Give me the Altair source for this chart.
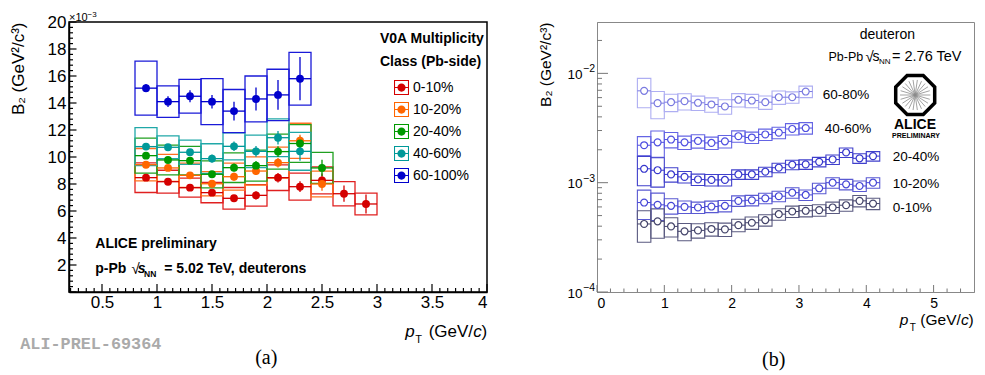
import math
import altair as alt
import pandas as pd

SANS = "Liberation Sans"
SERIF = "Liberation Serif"
MONO = "Liberation Mono"

# ---------------- panel (a): p-Pb, B2 in units of 1e-3 ----------------
classes_a = ["0-10%", "10-20%", "20-40%", "40-60%", "60-100%"]
colors_a = ["#d40000", "#ff6600", "#009900", "#009999", "#0000cc"]
box_colors_a = ["#e02020", "#ff7020", "#20a020", "#20a8a8", "#1a1ad8"]

pt_a_0_10 = [0.9, 1.1, 1.3, 1.5, 1.7, 1.9, 2.1, 2.3, 2.5, 2.7, 2.9]
b2_a_0_10 = [8.47, 8.17, 7.73, 7.36, 6.94, 7.16, 8.47, 7.80, 8.27, 7.28, 6.52]
stat_a_0_10 = [0.2, 0.2, 0.2, 0.2, 0.25, 0.3, 0.35, 0.4, 0.5, 0.6, 0.7]
sys_a_0_10 = [1.1, 0.85, 0.7, 0.75, 0.8, 0.8, 0.95, 1.0, 1.0, 0.9, 0.8]

pt_a_10_20 = [0.9, 1.1, 1.3, 1.5, 1.7, 1.9, 2.1, 2.3, 2.5]
b2_a_10_20 = [9.43, 9.19, 8.64, 8.02, 8.54, 8.96, 9.58, 11.2, 8.0]
stat_a_10_20 = [0.2, 0.2, 0.2, 0.25, 0.3, 0.3, 0.35, 0.45, 0.5]
sys_a_10_20 = [1.2, 1.0, 0.9, 0.9, 1.0, 1.05, 1.15, 1.3, 0.95]

pt_a_20_40 = [0.9, 1.1, 1.3, 1.5, 1.7, 1.9, 2.1, 2.3, 2.5]
b2_a_20_40 = [10.1, 9.78, 9.73, 8.72, 9.21, 9.36, 10.4, 11.0, 9.19]
stat_a_20_40 = [0.2, 0.2, 0.25, 0.25, 0.3, 0.35, 0.4, 0.5, 0.6]
sys_a_20_40 = [1.3, 1.1, 1.05, 1.0, 1.1, 1.15, 1.3, 1.4, 1.15]

pt_a_40_60 = [0.9, 1.1, 1.3, 1.5, 1.7, 1.9, 2.1, 2.3]
b2_a_40_60 = [10.77, 10.72, 10.35, 9.88, 10.79, 10.42, 11.43, 10.42]
stat_a_40_60 = [0.2, 0.2, 0.25, 0.3, 0.35, 0.4, 0.5, 0.7]
sys_a_40_60 = [1.4, 0.85, 0.9, 1.1, 1.0, 1.2, 1.4, 1.4]

pt_a_60_100 = [0.9, 1.1, 1.3, 1.5, 1.7, 1.9, 2.1, 2.3]
b2_a_60_100 = [15.1, 14.1, 14.5, 14.1, 13.4, 14.3, 14.6, 15.8]
stat_a_60_100 = [0.3, 0.4, 0.45, 0.5, 0.7, 0.85, 1.1, 1.6]
sys_a_60_100 = [2.0, 1.17, 1.25, 1.7, 1.6, 1.7, 1.9, 1.95]

xlabels_a = [0.5, 1.0, 1.5, 2.0, 2.5, 3.0, 3.5, 4.0]
ylabels_a = [2, 4, 6, 8, 10, 12, 14, 16, 18, 20]

# ---------------- panel (b): Pb-Pb ----------------
classes_b = ["60-80%", "40-60%", "20-40%", "10-20%", "0-10%"]
pt_colors_b = ["#7a7ae0", "#4f4fe0", "#3636cc", "#4646d6", "#44446a"]
box_colors_b = ["#aeaef2", "#6464e4", "#4040cc", "#5a5ad2", "#5a5a80"]

pt_b_short = [0.7, 0.9, 1.1, 1.3, 1.5, 1.7, 1.9, 2.1, 2.3, 2.5, 2.7, 2.9, 3.1]
pt_b_long = [0.7, 0.9, 1.1, 1.3, 1.5, 1.7, 1.9, 2.1, 2.3, 2.5, 2.7, 2.9, 3.1,
             3.3, 3.5, 3.7, 3.9, 4.1]

b2_b_60_80 = [6.92e-3, 5.34e-3, 5.45e-3, 5.57e-3, 5.38e-3, 5.19e-3, 4.98e-3,
              5.73e-3, 5.64e-3, 5.45e-3, 6.05e-3, 6.05e-3, 6.82e-3]
rel_b_60_80 = [0.30, 0.28, 0.18, 0.17, 0.15, 0.15, 0.15, 0.14, 0.14, 0.14, 0.14, 0.12, 0.12]

b2_b_40_60 = [2.20e-3, 2.34e-3, 2.48e-3, 2.34e-3, 2.41e-3, 2.31e-3, 2.39e-3,
              2.66e-3, 2.59e-3, 2.76e-3, 2.87e-3, 3.10e-3, 3.16e-3]
rel_b_40_60 = [0.20, 0.27, 0.16, 0.14, 0.14, 0.13, 0.13, 0.12, 0.12, 0.12, 0.12, 0.12, 0.12]

b2_b_20_40 = [1.34e-3, 1.30e-3, 1.19e-3, 1.13e-3, 1.07e-3, 1.06e-3, 1.06e-3, 1.19e-3,
              1.19e-3, 1.26e-3, 1.37e-3, 1.46e-3, 1.47e-3, 1.55e-3, 1.63e-3, 1.89e-3,
              1.67e-3, 1.75e-3]
rel_b_20_40 = [0.30, 0.30, 0.15, 0.12, 0.12, 0.12, 0.12, 0.10, 0.10, 0.10, 0.10, 0.10,
               0.10, 0.10, 0.10, 0.10, 0.10, 0.10]

b2_b_10_20 = [0.658e-3, 0.627e-3, 0.614e-3, 0.601e-3, 0.593e-3, 0.605e-3, 0.614e-3,
              0.682e-3, 0.690e-3, 0.720e-3, 0.752e-3, 0.810e-3, 0.773e-3, 0.889e-3,
              1.00e-3, 0.966e-3, 0.933e-3, 1.00e-3]
rel_b_10_20 = [0.30, 0.28, 0.16, 0.13, 0.12, 0.12, 0.12, 0.11, 0.11, 0.11, 0.11, 0.11,
               0.11, 0.11, 0.11, 0.11, 0.11, 0.11]

b2_b_0_10 = [0.419e-3, 0.443e-3, 0.398e-3, 0.359e-3, 0.366e-3, 0.377e-3, 0.374e-3,
             0.409e-3, 0.430e-3, 0.455e-3, 0.515e-3, 0.545e-3, 0.553e-3, 0.561e-3,
             0.593e-3, 0.622e-3, 0.682e-3, 0.644e-3]
rel_b_0_10 = [0.32, 0.30, 0.20, 0.18, 0.15, 0.14, 0.14, 0.13, 0.13, 0.12, 0.12, 0.12,
              0.12, 0.12, 0.12, 0.12, 0.12, 0.12]

xlabels_b = [0, 1, 2, 3, 4, 5]
ylabels_b = [1e-4, 1e-3, 1e-2]
ylabel_exp_b = ["\u22124", "\u22123", "\u22122"]

# ---------------- build tables ----------------
rows = []
for cls, pts, vals, st, sy in [
    ("0-10%", pt_a_0_10, b2_a_0_10, stat_a_0_10, sys_a_0_10),
    ("10-20%", pt_a_10_20, b2_a_10_20, stat_a_10_20, sys_a_10_20),
    ("20-40%", pt_a_20_40, b2_a_20_40, stat_a_20_40, sys_a_20_40),
    ("40-60%", pt_a_40_60, b2_a_40_60, stat_a_40_60, sys_a_40_60),
    ("60-100%", pt_a_60_100, b2_a_60_100, stat_a_60_100, sys_a_60_100),
]:
    for x, v, s, e in zip(pts, vals, st, sy):
        rows.append(dict(cls=cls, x=x, xlo=round(x - 0.1, 3), xhi=round(x + 0.1, 3),
                         v=v, slo=v - s, shi=v + s, blo=v - e, bhi=v + e))
df_a = pd.DataFrame(rows)

rows = []
for cls, pts, vals, rel in [
    ("60-80%", pt_b_short, b2_b_60_80, rel_b_60_80),
    ("40-60%", pt_b_short, b2_b_40_60, rel_b_40_60),
    ("20-40%", pt_b_long, b2_b_20_40, rel_b_20_40),
    ("10-20%", pt_b_long, b2_b_10_20, rel_b_10_20),
    ("0-10%", pt_b_long, b2_b_0_10, rel_b_0_10),
]:
    for x, v, r in zip(pts, vals, rel):
        rows.append(dict(clsb=cls, x=x, xlo=round(x - 0.1, 3), xhi=round(x + 0.1, 3),
                         v=v, blo=v * (1 - r), bhi=v * (1 + r)))
df_b = pd.DataFrame(rows)


def txt(s, x, y, size, font=SANS, align="left", baseline="alphabetic", weight="normal",
        style="normal", color="black", angle=0):
    return alt.Chart(pd.DataFrame({"t": [s]})).mark_text(
        align=align, baseline=baseline, font=font, fontSize=size, fontWeight=weight,
        fontStyle=style, color=color, angle=angle
    ).encode(x=alt.value(x), y=alt.value(y), text="t:N")


# ================= panel (a) =================
W_A, H_A = 418, 270
xs_a = alt.Scale(domain=[0.2, 4.0], nice=False, zero=False)
ys_a = alt.Scale(domain=[0, 20], nice=False, zero=False)
ax_xa = alt.Axis(values=xlabels_a, format="~g", labelFont=SANS, labelFontSize=17,
                 labelPadding=2, ticks=False, grid=False, domainColor="black",
                 domainWidth=1.5, title=None, labelColor="black")
ax_ya = alt.Axis(values=ylabels_a, format="d", labelFont=SANS, labelFontSize=17,
                 labelPadding=3, ticks=False, grid=False, domainColor="black",
                 domainWidth=1.5, title="B\u2082 (GeV\u00b2/c\u00b3)", titleFont=SANS,
                 titleFontSize=17, titleFontWeight="normal", titleAnchor="end",
                 titlePadding=20, titleColor="black", labelColor="black")


def XA(f):
    return alt.X(f, type="quantitative", scale=xs_a, axis=ax_xa)


def YA(f):
    return alt.Y(f, type="quantitative", scale=ys_a, axis=ax_ya)


stroke_box_a = alt.Stroke("cls:N", scale=alt.Scale(domain=classes_a, range=box_colors_a), legend=None)
color_pt_a = alt.Color("cls:N", scale=alt.Scale(domain=classes_a, range=colors_a), legend=None)

LEG_PATH = ("M-1,-1 L1,-1 L1,1 L-1,1 Z "
            "M-0.86,-0.86 L-0.86,0.86 L0.86,0.86 L0.86,-0.86 Z "
            "M-0.86,-0.08 L0.86,-0.08 L0.86,0.08 L-0.86,0.08 Z "
            "M-0.55,0 A0.55,0.55 0 1,1 0.55,0 A0.55,0.55 0 1,1 -0.55,0 Z")

fill_a = alt.Fill("cls:N", scale=alt.Scale(domain=classes_a, range=colors_a),
                  legend=alt.Legend(orient="none", legendX=325, legendY=58, title=None,
                                    symbolType=LEG_PATH, symbolSize=225,
                                    symbolStrokeWidth=0, symbolOpacity=1,
                                    labelFont=SANS, labelFontSize=14, labelOffset=4,
                                    labelColor="black", rowPadding=7, padding=0))

base_a = alt.Chart(df_a)
boxes_a = base_a.mark_rect(fillOpacity=0, strokeWidth=1.3).encode(
    x=XA("xlo"), x2="xhi", y=YA("blo"), y2="bhi", stroke=stroke_box_a)
xerr_a = base_a.mark_rule(strokeWidth=1.3).encode(
    x=XA("xlo"), x2="xhi", y=YA("v"), color=color_pt_a)
yerr_a = base_a.mark_rule(strokeWidth=1.3).encode(
    x=XA("x"), y=YA("slo"), y2="shi", color=color_pt_a)
pts_a = base_a.mark_circle(size=62, opacity=1).encode(x=XA("x"), y=YA("v"), fill=fill_a)

xt_major_a = xlabels_a
xt_minor_a = [round(0.5 + k / 14, 4) for k in range(-4, 50) if k % 7 != 0 and 0.2 < 0.5 + k / 14 < 4.0]
yt_major_a = list(range(0, 21, 2))
yt_minor_a = [round(0.4 * k, 2) for k in range(1, 50) if k % 5 != 0]

ticks_a = [
    alt.Chart(pd.DataFrame({"t": xt_major_a})).mark_rule(color="black", strokeWidth=1.2)
    .encode(x=XA("t"), y=alt.value(H_A), y2=alt.value(H_A - 8)),
    alt.Chart(pd.DataFrame({"t": xt_minor_a})).mark_rule(color="black", strokeWidth=1.2)
    .encode(x=XA("t"), y=alt.value(H_A), y2=alt.value(H_A - 4)),
    alt.Chart(pd.DataFrame({"t": yt_major_a})).mark_rule(color="black", strokeWidth=1.2)
    .encode(y=YA("t"), x=alt.value(0), x2=alt.value(7.5)),
    alt.Chart(pd.DataFrame({"t": yt_minor_a})).mark_rule(color="black", strokeWidth=1.2)
    .encode(y=YA("t"), x=alt.value(0), x2=alt.value(4)),
]

# invisible spacer fixing the room above the plot (for the x10^-3 multiplier)
spacer_a = alt.Chart(pd.DataFrame({"t": [0]})).mark_rule(opacity=0).encode(
    x=alt.value(1), y=alt.value(-12.5), y2=alt.value(0))

texts_a = [
    txt("\u00d710", 0, -1.5, 11),
    txt("\u22123", 18.5, -4.6, 8),
    txt("V0A Multiplicity", 311, 16.5, 14, weight="bold", baseline="middle"),
    txt("Class (Pb-side)", 311, 39.5, 14, weight="bold", baseline="middle"),
    txt("ALICE preliminary", 26.3, 226, 14, weight="bold"),
    txt("p-Pb", 26.3, 251, 14, weight="bold"),
    txt("\u221a", 62.5, 252, 15),
    txt("s", 68.8, 251, 14, weight="bold", style="italic"),
    txt("NN", 75, 254.5, 8.5, weight="bold"),
    txt("= 5.02 TeV, deuterons", 95.3, 251, 14, weight="bold"),
    txt("p", 336.3, 314.5, 17, style="italic"),
    txt("T", 346.3, 320.5, 11),
    txt("(GeV/", 404.1, 314.5, 17, align="right"),
    txt("c", 404.3, 314.5, 17, style="italic"),
    txt(")", 412.6, 314.5, 17),
    txt("ALI-PREL-69364", -48.7, 321.5, 16.8, font=MONO, weight="bold",
        color="#aaaaaa", baseline="middle"),
    txt("(a)", 197.3, 336, 20, font=SERIF, align="center", baseline="middle"),
]

left = alt.layer(boxes_a, xerr_a, yerr_a, pts_a, *ticks_a, spacer_a, *texts_a).properties(
    width=W_A, height=H_A, view=alt.ViewBackground(stroke="black", strokeWidth=1.5))

# ================= panel (b) =================
W_B, H_B = 377, 270
xs_b = alt.Scale(domain=[0, 5.6], nice=False, zero=False)
ys_b = alt.Scale(type="log", domain=[1e-4, 0.0295], nice=False)
ax_xb = alt.Axis(values=xlabels_b, format="d", labelFont=SANS, labelFontSize=14,
                 labelPadding=4, ticks=False, grid=False, domainColor="#888888",
                 domainWidth=1, title=None, labelColor="black")
ax_yb = alt.Axis(labels=False, ticks=False, grid=False, domainColor="#888888",
                 domainWidth=1, title="B\u2082 (GeV\u00b2/c\u00b3)", titleFont=SANS,
                 titleFontSize=15.5, titleFontWeight="normal", titleAnchor="end",
                 titlePadding=44, titleColor="black")


def XB(f):
    return alt.X(f, type="quantitative", scale=xs_b, axis=ax_xb)


def YB(f):
    return alt.Y(f, type="quantitative", scale=ys_b, axis=ax_yb)


stroke_box_b = alt.Stroke("clsb:N", scale=alt.Scale(domain=classes_b, range=box_colors_b), legend=None)
color_pt_b = alt.Color("clsb:N", scale=alt.Scale(domain=classes_b, range=pt_colors_b), legend=None)

base_b = alt.Chart(df_b)
boxes_b = base_b.mark_rect(fillOpacity=0, strokeWidth=1.1).encode(
    x=XB("xlo"), x2="xhi", y=YB("blo"), y2="bhi", stroke=stroke_box_b)
xerr_b = base_b.mark_rule(strokeWidth=1).encode(
    x=XB("xlo"), x2="xhi", y=YB("v"), color=color_pt_b)
pts_b = base_b.mark_point(shape="circle", size=48, filled=False, fill="white", fillOpacity=1,
                          strokeWidth=1.2, opacity=1).encode(
    x=XB("x"), y=YB("v"), color=color_pt_b)

xt_major_b = xlabels_b
xt_minor_b = [round(0.2 * k, 2) for k in range(1, 28) if k % 5 != 0]
yt_major_b = ylabels_b
yt_minor_b = [m * 10.0 ** e for e in (-4, -3, -2) for m in range(2, 10) if m * 10.0 ** e < 0.0295]

ticks_b = [
    alt.Chart(pd.DataFrame({"t": xt_major_b})).mark_rule(color="#777777", strokeWidth=1)
    .encode(x=XB("t"), y=alt.value(H_B), y2=alt.value(H_B - 7)),
    alt.Chart(pd.DataFrame({"t": xt_minor_b})).mark_rule(color="#777777", strokeWidth=1)
    .encode(x=XB("t"), y=alt.value(H_B), y2=alt.value(H_B - 3.5)),
    alt.Chart(pd.DataFrame({"t": yt_major_b})).mark_rule(color="#777777", strokeWidth=1)
    .encode(y=YB("t"), x=alt.value(0), x2=alt.value(11)),
    alt.Chart(pd.DataFrame({"t": yt_minor_b})).mark_rule(color="#777777", strokeWidth=1)
    .encode(y=YB("t"), x=alt.value(0), x2=alt.value(5)),
]

ylab_df = pd.DataFrame({"t": ylabels_b, "base": ["10"] * 3, "exp": ylabel_exp_b})
ylabels_layers_b = [
    alt.Chart(ylab_df).mark_text(align="right", baseline="middle", dy=1.5, font=SANS,
                                 fontSize=13.5, color="black")
    .encode(y=YB("t"), x=alt.value(-14.5), text="base:N"),
    alt.Chart(ylab_df).mark_text(align="left", baseline="middle", dy=-4, font=SANS,
                                 fontSize=10.5, color="black")
    .encode(y=YB("t"), x=alt.value(-14), text="exp:N"),
]

OCT = ("M-0.383,-0.924 L0.383,-0.924 L0.924,-0.383 L0.924,0.383 L0.383,0.924 "
       "L-0.383,0.924 L-0.924,0.383 L-0.924,-0.383 Z")
STAR = " ".join("M0,0 L%.3f,%.3f" % (0.72 * math.cos(2 * math.pi * k / 22),
                                       0.72 * math.sin(2 * math.pi * k / 22)) for k in range(22))
logo_b = [
    alt.Chart(pd.DataFrame({"t": [0]})).mark_point(shape=STAR, size=1780, filled=False,
                                                   stroke="#8a8a8a", strokeWidth=0.8, opacity=1)
    .encode(x=alt.value(318.2), y=alt.value(73)),
    alt.Chart(pd.DataFrame({"t": [0]})).mark_point(shape=OCT, size=1780, filled=False,
                                                   stroke="black", strokeWidth=3.5, opacity=1)
    .encode(x=alt.value(318.2), y=alt.value(73)),
    txt("ALICE", 318, 107, 14, weight="bold", align="center"),
    txt("PRELIMINARY", 319, 116, 7, weight="bold", align="center"),
]

texts_b = [
    txt("deuteron", 262.7, 16.7, 14),
    txt("Pb-Pb", 231.5, 39, 12.5),
    txt("\u221a", 268.5, 40, 15),
    txt("s", 275.5, 39, 14),
    txt("NN", 282, 42, 8),
    txt("= 2.76 TeV", 295, 39, 14.5),
    txt("60-80%", 225.7, 73, 13.5, baseline="middle"),
    txt("40-60%", 227.7, 107, 13.5, baseline="middle"),
    txt("20-40%", 295.7, 135, 13.5, baseline="middle"),
    txt("10-20%", 295.7, 161.7, 13.5, baseline="middle"),
    txt("0-10%", 295.7, 186, 13.5, baseline="middle"),
    txt("p", 302.7, 303.3, 15.5, style="italic"),
    txt("T", 312.7, 309, 10),
    txt("(GeV/", 363.8, 303.3, 15.5, align="right"),
    txt("c", 364, 303.3, 15.5, style="italic"),
    txt(")", 371.5, 303.3, 15.5),
    txt("(b)", 176.7, 338, 20, font=SERIF, align="center", baseline="middle"),
]

right = alt.layer(boxes_b, xerr_b, pts_b, *ticks_b, *ylabels_layers_b, *logo_b, *texts_b).properties(
    width=W_B, height=H_B, view=alt.ViewBackground(stroke="#888888", strokeWidth=1))

chart = alt.hconcat(left, right, spacing=48).resolve_scale(
    stroke="independent", color="independent"
).properties(
    padding={"left": 0, "top": 0, "right": 0, "bottom": 0}
).configure_axis(grid=False)

chart.save("out.html", embed_options={"renderer": "svg", "actions": False})
